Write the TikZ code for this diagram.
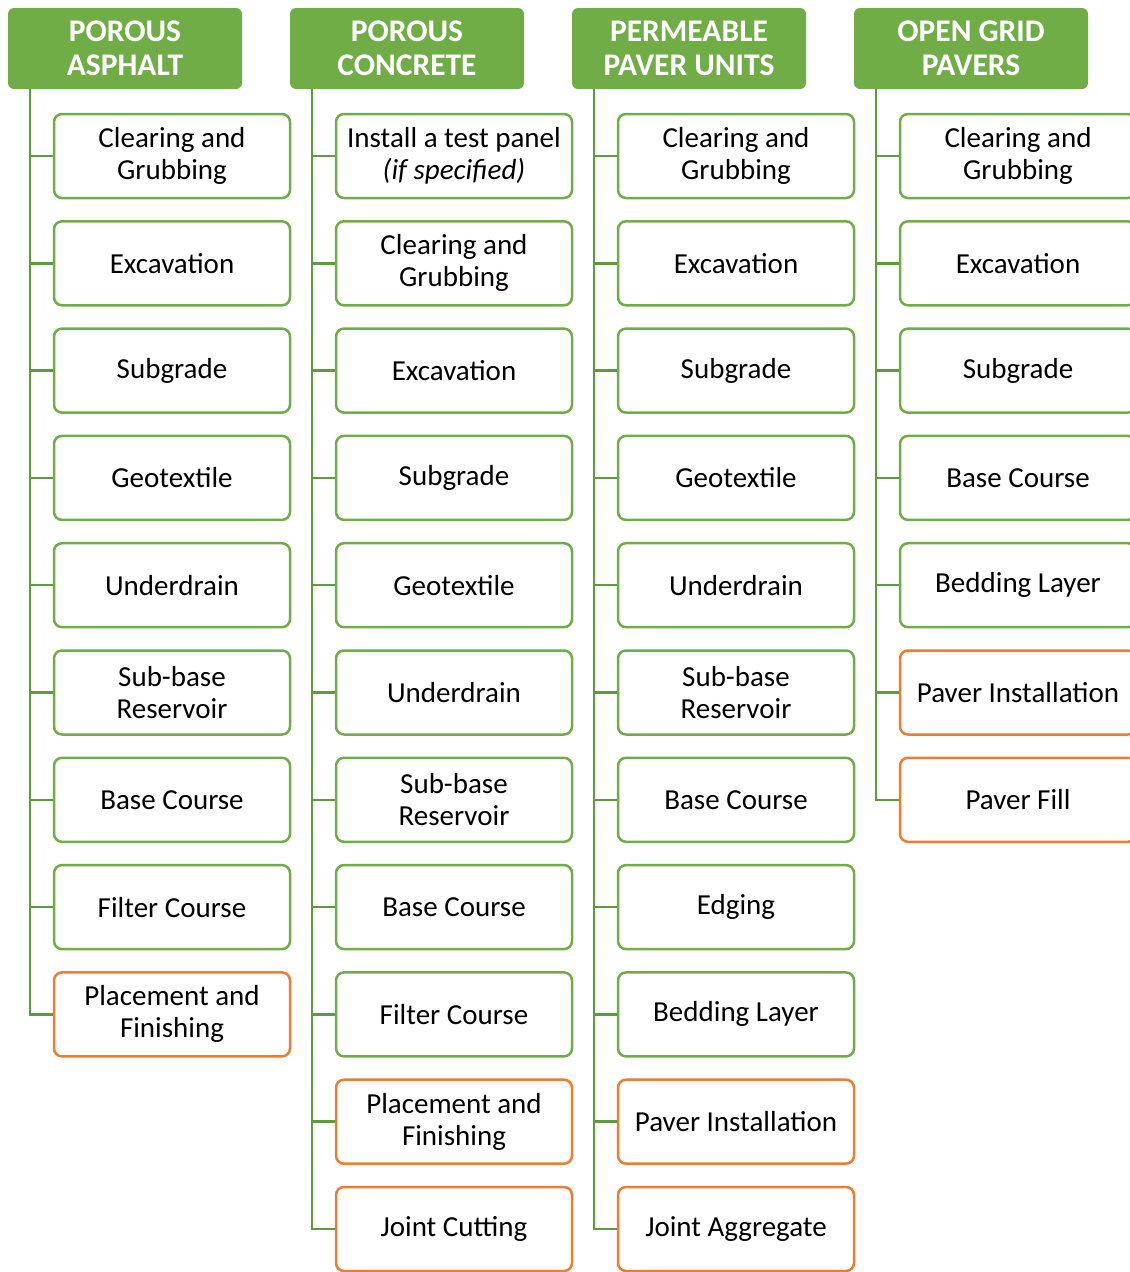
\documentclass[tikz,border=0pt]{standalone}
\usepackage{fontspec}
\setmainfont{Carlito}
\usetikzlibrary{positioning}
\definecolor{hdrgreen}{HTML}{70AD47}
\definecolor{trunkgreen}{HTML}{5E9B3C}
\definecolor{boxorange}{HTML}{ED7D31}
\tikzset{
  header/.style={rectangle, rounded corners=6pt, fill=hdrgreen, text=white, minimum width=234pt, minimum height=81pt, align=center, inner sep=0pt, font=\fontsize{31.5}{34}\selectfont\bfseries},
  task/.style={rectangle, rounded corners=8pt, draw=hdrgreen, line width=2.5pt, fill=white, minimum width=236pt, minimum height=84pt, align=center, inner sep=0pt, font=\fontsize{29}{32}\selectfont},
  final/.style={task, draw=boxorange},
  trunk/.style={draw=trunkgreen, line width=2.5pt},
  node distance=20.8pt
}
\begin{document}
\begin{tikzpicture}[x=1pt,y=-1pt]
\useasboundingbox (0,0) rectangle (1130,1272);
\clip (0,0) rectangle (1130,1272);

%--- porous asphalt
\node (pa-h) at (125,48.5) [header] {POROUS\\ASPHALT};
\node (pa-1) at (172,156) [task] {Clearing and\\Grubbing};
\node (pa-2) [task, below=of pa-1] {Excavation};
\node (pa-3) [task, below=of pa-2] {Subgrade};
\node (pa-4) [task, below=of pa-3] {Geotextile};
\node (pa-5) [task, below=of pa-4] {Underdrain};
\node (pa-6) [task, below=of pa-5] {Sub-base\\Reservoir};
\node (pa-7) [task, below=of pa-6] {Base Course};
\node (pa-8) [task, below=of pa-7] {Filter Course};
\node (pa-9) [final, below=of pa-8] {Placement and\\Finishing};

%--- porous concrete
\node (pc-h) at (407,48.5) [header] {POROUS\\CONCRETE};
\node (pc-1) at (454,156) [task] {Install a test panel\\\textit{(if specified)}};
\node (pc-2) [task, below=of pc-1] {Clearing and\\Grubbing};
\node (pc-3) [task, below=of pc-2] {Excavation};
\node (pc-4) [task, below=of pc-3] {Subgrade};
\node (pc-5) [task, below=of pc-4] {Geotextile};
\node (pc-6) [task, below=of pc-5] {Underdrain};
\node (pc-7) [task, below=of pc-6] {Sub-base\\Reservoir};
\node (pc-8) [task, below=of pc-7] {Base Course};
\node (pc-9) [task, below=of pc-8] {Filter Course};
\node (pc-10) [final, below=of pc-9] {Placement and\\Finishing};
\node (pc-11) [final, below=of pc-10] {Joint Cutting};

%--- permeable paver units
\node (pp-h) at (689,48.5) [header] {PERMEABLE\\PAVER UNITS};
\node (pp-1) at (736,156) [task] {Clearing and\\Grubbing};
\node (pp-2) [task, below=of pp-1] {Excavation};
\node (pp-3) [task, below=of pp-2] {Subgrade};
\node (pp-4) [task, below=of pp-3] {Geotextile};
\node (pp-5) [task, below=of pp-4] {Underdrain};
\node (pp-6) [task, below=of pp-5] {Sub-base\\Reservoir};
\node (pp-7) [task, below=of pp-6] {Base Course};
\node (pp-8) [task, below=of pp-7] {Edging};
\node (pp-9) [task, below=of pp-8] {Bedding Layer};
\node (pp-10) [final, below=of pp-9] {Paver Installation};
\node (pp-11) [final, below=of pp-10] {Joint Aggregate};

%--- open grid pavers
\node (og-h) at (971,48.5) [header] {OPEN GRID\\PAVERS};
\node (og-1) at (1018,156) [task] {Clearing and\\Grubbing};
\node (og-2) [task, below=of og-1] {Excavation};
\node (og-3) [task, below=of og-2] {Subgrade};
\node (og-4) [task, below=of og-3] {Base Course};
\node (og-5) [task, below=of og-4] {Bedding Layer};
\node (og-6) [final, below=of og-5] {Paver Installation};
\node (og-7) [final, below=of og-6] {Paver Fill};

%--- trunks and ticks
\coordinate (pa-t) at ([xshift=22pt]pa-h.south west);
\coordinate (pc-t) at ([xshift=22pt]pc-h.south west);
\coordinate (pp-t) at ([xshift=22pt]pp-h.south west);
\coordinate (og-t) at ([xshift=22pt]og-h.south west);

\draw [trunk] (pa-t) |- (pa-9.west);
\foreach \k in {1,...,8} \draw [trunk] (pa-t |- pa-\k.west) -- (pa-\k.west);
\draw [trunk] (pc-t) |- (pc-11.west);
\foreach \k in {1,...,10} \draw [trunk] (pc-t |- pc-\k.west) -- (pc-\k.west);
\draw [trunk] (pp-t) |- (pp-11.west);
\foreach \k in {1,...,10} \draw [trunk] (pp-t |- pp-\k.west) -- (pp-\k.west);
\draw [trunk] (og-t) |- (og-7.west);
\foreach \k in {1,...,6} \draw [trunk] (og-t |- og-\k.west) -- (og-\k.west);

\end{tikzpicture}
\end{document}
